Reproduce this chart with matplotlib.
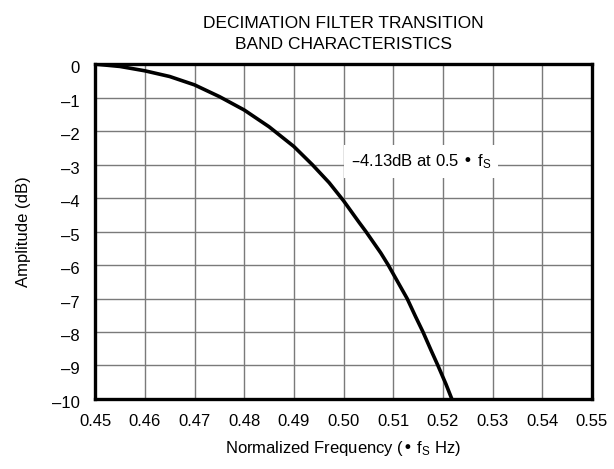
import matplotlib
matplotlib.use("Agg")
import matplotlib.pyplot as plt
from matplotlib.transforms import ScaledTranslation

plt.rcParams["font.family"] = ["Liberation Sans", "DejaVu Sans"]
plt.rcParams["mathtext.default"] = "regular"

# values
freq = [0.45, 0.455, 0.46, 0.465, 0.47, 0.475, 0.48, 0.485, 0.49, 0.4937,
        0.4971, 0.50, 0.5031, 0.5045, 0.5075, 0.5090, 0.5109, 0.5128,
        0.5145, 0.5160, 0.5176, 0.5190, 0.5206, 0.5218]
amp_db = [0, -0.07, -0.2, -0.37, -0.62, -0.97, -1.37, -1.87, -2.46, -3.0,
          -3.54, -4.08, -4.72, -5.0, -5.64, -6.0, -6.5, -7.0,
          -7.54, -8.0, -8.54, -9.0, -9.55, -10.0]

x_ticks = [0.45, 0.46, 0.47, 0.48, 0.49, 0.50, 0.51, 0.52, 0.53, 0.54, 0.55]
y_ticks = [0, -1, -2, -3, -4, -5, -6, -7, -8, -9, -10]
note_text = "–4.13dB at 0.5 • f$_S$"
note_pos = (0.5156, -3.04)

fig = plt.figure(figsize=(6.14, 4.69), dpi=100)
ax = fig.add_axes([0.155, 0.1493, 0.809, 0.714])

ax.plot(freq, amp_db, color="black", lw=2.6, solid_joinstyle="round",
        solid_capstyle="butt", zorder=3)

ax.set_xlim(0.45, 0.55)
ax.set_ylim(-10, 0)
ax.set_xticks(x_ticks)
ax.set_xticklabels([f"{v:.2f}" for v in x_ticks])
ax.set_yticks(y_ticks)
ax.set_yticklabels(["0" if v == 0 else f"–{abs(v)}" for v in y_ticks])
ax.tick_params(length=0, labelsize=12, pad=11)
# y tick labels sit a touch below their grid lines in the original
shift = ScaledTranslation(0, -3 / 100, fig.dpi_scale_trans)
for lbl in ax.get_yticklabels():
    lbl.set_transform(lbl.get_transform() + shift)
ax.grid(True, color="#7a7a7a", lw=1.0)
ax.set_axisbelow(True)
for s in ax.spines.values():
    s.set_linewidth(2.4)

ax.text(*note_pos, note_text, fontsize=12, ha="center", va="baseline",
        bbox=dict(facecolor="white", edgecolor="none", pad=5), zorder=4)

ax.set_xlabel("Normalized Frequency (• f$_S$ Hz)", fontsize=12)
ax.set_ylabel("Amplitude (dB)", fontsize=12)
ax.xaxis.set_label_coords(0.5, -0.119)
ax.yaxis.set_label_coords(-0.129, 0.5)
ax.set_title("DECIMATION FILTER TRANSITION\nBAND CHARACTERISTICS",
             fontsize=12.5, pad=11, linespacing=1.45)

fig.savefig("out.png", dpi=100)
